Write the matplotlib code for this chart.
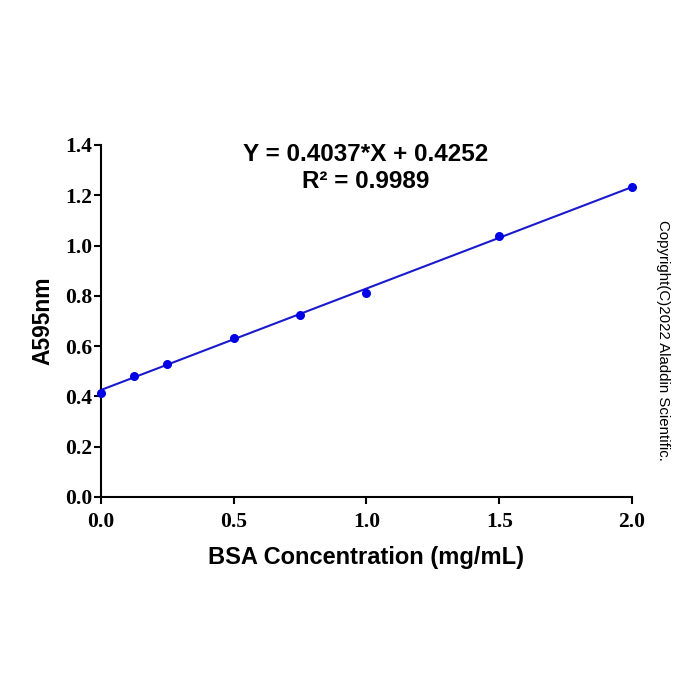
import numpy as np
import matplotlib.pyplot as plt

# BSA standard curve
conc = [0.0, 0.125, 0.25, 0.5, 0.75, 1.0, 1.5, 2.0]
absorb = [0.414, 0.481, 0.529, 0.632, 0.724, 0.811, 1.038, 1.233]
slope = 0.4037
intercept = 0.4252
xticks = [0.0, 0.5, 1.0, 1.5, 2.0]
yticks = [0.0, 0.2, 0.4, 0.6, 0.8, 1.0, 1.2, 1.4]

fig = plt.figure(figsize=(7, 7), dpi=100)
ax = fig.add_axes([0.144, 0.29, 0.759, 0.503])

fx = np.array([0.0, 2.0])
ax.plot(fx, slope * fx + intercept, color='#1a1acc', lw=1.5, zorder=2)
ax.scatter(conc, absorb, color='#0000e6', s=30, zorder=3, clip_on=False)

ax.set_xlim(0, 2.0)
ax.set_ylim(0, 1.4)
ax.set_xticks(xticks)
ax.set_yticks(yticks)
ax.set_xticklabels(['%.1f' % v for v in xticks])
ax.set_yticklabels(['%.1f' % v for v in yticks])
for lab in ax.get_xticklabels() + ax.get_yticklabels():
    lab.set_family('Liberation Serif')
    lab.set_fontweight('bold')
    lab.set_fontsize(15.5)

ax.spines['top'].set_visible(False)
ax.spines['right'].set_visible(False)
for s in ['left', 'bottom']:
    ax.spines[s].set_linewidth(1.5)
ax.tick_params(direction='out', length=5, width=1.5)
ax.tick_params(axis='x', pad=6)
ax.tick_params(axis='y', pad=1)

ax.set_xlabel('BSA Concentration (mg/mL)', family='Liberation Sans',
              fontweight='bold', fontsize=17, labelpad=10)
ax.set_ylabel('A595nm', family='Liberation Sans', fontweight='bold',
              fontsize=16.5, labelpad=8)

fig.text(0.523, 0.760, 'Y = 0.4037*X + 0.4252\nR² = 0.9989',
         ha='center', va='center', family='Liberation Sans',
         fontweight='bold', fontsize=17.5, linespacing=1.25)

fig.text(0.947, 0.514, 'Copyright(C)2022 Aladdin Scientific.', rotation=-90,
         ha='center', va='center', family='Liberation Sans', fontsize=10.8)

plt.savefig('out.png', dpi=100)
